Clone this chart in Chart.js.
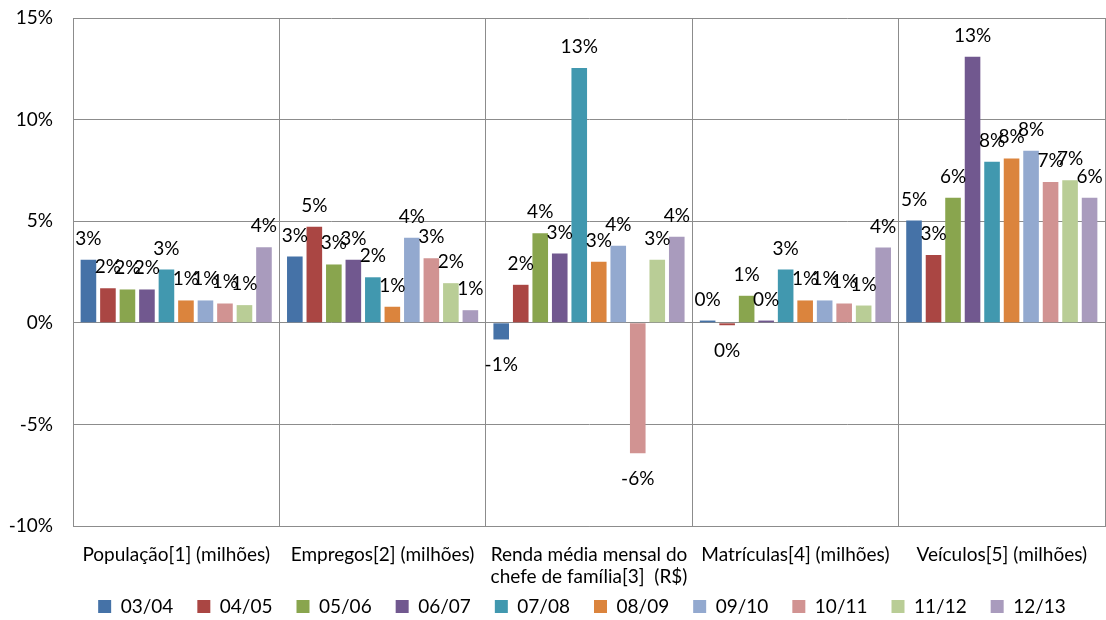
<!DOCTYPE html>
<html>
<head>
<meta charset="utf-8">
<script src="https://cdn.jsdelivr.net/npm/chart.js@4/dist/chart.umd.min.js"></script>
<style>
html, body { margin: 0; padding: 0; background: #fff; }
</style>
</head>
<body>
<canvas id="myChart" width="1106" height="620"></canvas>
<script>
// categorias do eixo x
var categorias = [
    "População[1] (milhões)",
    "Empregos[2] (milhões)",
    ["Renda média mensal do", "chefe de família[3]  (R$)"],
    "Matrículas[4] (milhões)",
    "Veículos[5] (milhões)"
];

// variação anual (%) por período
var p0304 = [3.10, 3.26, -0.82, 0.11, 5.03];
var p0405 = [1.70, 4.73, 1.87, -0.12, 3.34];
var p0506 = [1.64, 2.87, 4.41, 1.33, 6.16];
var p0607 = [1.64, 3.10, 3.41, 0.11, 13.09];
var p0708 = [2.62, 2.24, 12.54, 2.62, 7.93];
var p0809 = [1.10, 0.79, 3.01, 1.10, 8.09];
var p0910 = [1.10, 4.19, 3.79, 1.10, 8.47];
var p1011 = [0.95, 3.18, -6.42, 0.95, 6.93];
var p1112 = [0.87, 1.95, 3.10, 0.85, 7.01];
var p1213 = [3.72, 0.62, 4.24, 3.70, 6.16];

var periodos = ["03/04", "04/05", "05/06", "06/07", "07/08", "08/09", "09/10", "10/11", "11/12", "12/13"];
var series = [p0304, p0405, p0506, p0607, p0708, p0809, p0910, p1011, p1112, p1213];
var cores = ["#4572A7", "#AA4643", "#89A54E", "#71588F", "#4198AF", "#DB843D", "#93A9CF", "#D19392", "#B9CD96", "#A99BBD"];

var ticksY = [-10, -5, 0, 5, 10, 15];

var fonte = "Lato";
var tam = 19;
var cinza = "#8c8c8c";

// rótulos de valor acima / abaixo das barras
var etiquetas = {
    id: "etiquetas",
    afterDatasetsDraw: function(chart){
        var ctx = chart.ctx;
        ctx.save();
        ctx.font = tam + "px " + fonte;
        ctx.fillStyle = "#000";
        ctx.textAlign = "center";
        ctx.textBaseline = "alphabetic";
        chart.data.datasets.forEach(function(ds, i){
            var meta = chart.getDatasetMeta(i);
            meta.data.forEach(function(bar, j){
                var v = ds.data[j];
                var txt = Math.round(v) + "%";
                if(v >= 0){
                    ctx.fillText(txt, bar.x, bar.y - 15);
                } else {
                    ctx.fillText(txt, bar.x, bar.y + 32);
                }
            });
        });
        ctx.restore();
    }
};

// legenda um pouco mais à direita e mais alta, como no original
var posLegenda = {
    id: "posLegenda",
    afterLayout: function(chart){
        var lg = chart.legend;
        lg.left = 58;
        lg.right = 1106;
        lg.top = 573;
        lg.bottom = 620;
        lg.width = lg.right - lg.left;
        lg.height = lg.bottom - lg.top;
    }
};

var datasets = [];
for(var i = 0; i < series.length; i++){
    datasets.push({
        label: periodos[i],
        data: series[i],
        backgroundColor: cores[i],
        borderWidth: 0,
        barPercentage: 0.8,
        categoryPercentage: 0.945
    });
}

new Chart(document.getElementById("myChart"), {
    type: "bar",
    data: {
        labels: categorias,
        datasets: datasets
    },
    options: {
        responsive: false,
        animation: false,
        layout: {
            padding: { left: 0, right: 1, top: 18, bottom: 0 }
        },
        plugins: {
            tooltip: { enabled: false },
            legend: {
                position: "bottom",
                maxHeight: 30,
                labels: {
                    boxWidth: 13,
                    boxHeight: 13,
                    padding: 24,
                    color: "#000",
                    font: { family: fonte, size: tam }
                }
            }
        },
        scales: {
            x: {
                offset: true,
                grid: { offset: true, color: cinza, drawTicks: false },
                border: { color: cinza },
                ticks: {
                    color: "#000",
                    padding: 17,
                    maxRotation: 0,
                    autoSkip: false,
                    font: { family: fonte, size: tam }
                },
                afterFit: function(scale){ scale.height = 64; }
            },
            y: {
                min: -10,
                max: 15,
                afterBuildTicks: function(scale){
                    scale.ticks = ticksY.map(function(v){ return { value: v }; });
                },
                grid: { color: cinza, drawTicks: false },
                border: { color: cinza },
                ticks: {
                    color: "#000",
                    padding: 20,
                    font: { family: fonte, size: tam },
                    callback: function(v){ return v + "%"; }
                },
                afterFit: function(scale){
                    scale.width = 73;
                    scale.paddingTop = 0;
                    scale.paddingBottom = 0;
                }
            }
        }
    },
    plugins: [etiquetas, posLegenda]
});
</script>
</body>
</html>
